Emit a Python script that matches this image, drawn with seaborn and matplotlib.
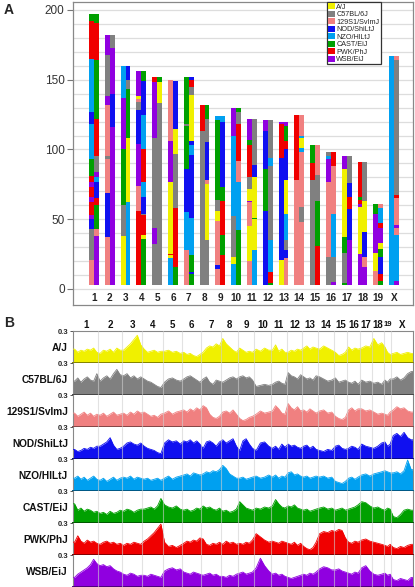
import numpy as np
import pandas as pd
import matplotlib
matplotlib.use("Agg")
import matplotlib.pyplot as plt
import matplotlib.colors as mcolors
from matplotlib.patches import Patch
import seaborn as sns

# ---------------- data ----------------
founders = ["A/J", "C57BL/6J", "129S1/SvImJ", "NOD/ShiLtJ",
            "NZO/HlLtJ", "CAST/EiJ", "PWK/PhJ", "WSB/EiJ"]
founder_codes = "YGSBLCRP"
founder_colors = ["#F0F000", "#808080", "#F08080", "#1010F0",
                  "#00A0F0", "#00A000", "#F00000", "#9000E0"]

chromosomes = ["1", "2", "3", "4", "5", "6", "7", "8", "9", "10",
               "11", "12", "13", "14", "15", "16", "17", "18", "19", "X"]
chrom_length_mb = [197, 182, 160, 156, 152, 150, 152, 132, 124, 130,
                   122, 121, 120, 125, 103, 98, 95, 91, 61, 167]
hap_start_mb = 3

# panel A: founder mosaic of the two homologs (founder codes bottom->top, segment ends in Mb)
chr1_hap = [("SGBPRPRPRCLBLRC", [21, 43, 50, 53, 62, 66, 73, 77, 81, 93, 118, 127, 165, 192, 197]),
            ("PSCRBLPGRCRC", [38, 43, 60, 65, 77, 80, 84, 95, 122, 164, 191, 197])]
chr2_hap = [("SBSGSPGP", [37, 69, 93, 95, 132, 138, 168, 182]),
            ("PBPG", [116, 140, 173, 182])]
chr3_hap = [("YGCPL", [38, 60, 100, 137, 160]),
            ("LYCGB", [62, 108, 143, 150, 160])]
chr4_hap = [("RSPBGSYP", [56, 74, 104, 128, 134, 136, 138, 156]),
            ("CYRGBLRLBC", [36, 39, 53, 54, 66, 77, 100, 125, 149, 156])]
chr5_hap = [("GPGPR", [32, 44, 108, 148, 152]),
            ("GYC", [133, 148, 152])]
chr6_hap = [("LYRYPS", [22, 24, 25, 77, 106, 150]),
            ("CRGYB", [16, 58, 97, 115, 149])]
chr7_hap = [("SLBCGC", [28, 55, 86, 117, 118, 152]),
            ("CBCLBLBYGRB", [11, 12, 24, 51, 96, 103, 106, 139, 145, 150, 152])]
chr8_hap = [("GR", [113, 132]),
            ("GYSBGC", [35, 75, 78, 105, 122, 132])]
chr9_hap = [("SBSYGCL", [14, 17, 49, 56, 64, 121, 124]),
            ("RCRCBL", [24, 39, 63, 73, 120, 124])]
chr10_hap = [("LYGLP", [18, 23, 52, 110, 130]),
             ("CLSRGC", [42, 77, 92, 118, 127, 130])]
chr11_hap = [("SYSPYGRCP", [20, 45, 62, 63, 72, 80, 103, 107, 122]),
             ("LYCYBG", [28, 50, 51, 80, 89, 122])]
chr12_hap = [("BCBP", [56, 86, 113, 121]),
             ("CRLGLG", [4, 12, 35, 88, 94, 121])]
chr13_hap = [("YBRP", [21, 94, 118, 120]),
             ("SBGLYBRCP", [22, 28, 35, 54, 78, 100, 106, 117, 120])]
chr14_hap = [("SR", [78, 125]),
             ("SGSLYLS", [48, 59, 98, 101, 108, 110, 125])]
chr15_hap = [("GRC", [78, 90, 103]),
             ("RCGS", [31, 63, 82, 103])]
chr16_hap = [("GSPLG", [23, 77, 93, 95, 98]),
             ("PGLSR", [5, 23, 54, 88, 98])]
chr17_hap = [("CGCYP", [4, 26, 37, 86, 95]),
             ("PBRBG", [35, 57, 66, 76, 95])]
chr18_hap = [("PYPRCR", [25, 59, 61, 64, 66, 91]),
             ("PSBYG", [16, 23, 41, 63, 91])]
chr19_hap = [("SYPC", [13, 26, 54, 61]),
             ("CRBCYPRLS", [6, 11, 23, 29, 33, 44, 47, 58, 61])]
chrX_hap = [("L", [167]),
            ("PLSPSRGS", [6, 39, 44, 46, 65, 67, 164, 167])]
haplotypes = [chr1_hap, chr2_hap, chr3_hap, chr4_hap, chr5_hap, chr6_hap, chr7_hap,
              chr8_hap, chr9_hap, chr10_hap, chr11_hap, chr12_hap, chr13_hap,
              chr14_hap, chr15_hap, chr16_hap, chr17_hap, chr18_hap, chr19_hap, chrX_hap]

# panel B: founder contribution along the genome (samples per chromosome)
samples_per_chrom = [8, 7, 6, 6, 5, 6, 6, 5, 5, 4, 5, 5, 5, 4, 4, 4, 3, 3, 3, 6]
aj_freq = [0.13, 0.10, 0.12, 0.11, 0.13, 0.12, 0.14, 0.10,
           0.09, 0.12, 0.11, 0.13, 0.10, 0.14, 0.12,
           0.12, 0.15, 0.18, 0.22, 0.26, 0.17,
           0.13, 0.10, 0.11, 0.12, 0.10, 0.11,
           0.11, 0.12, 0.10, 0.11, 0.09,
           0.10, 0.08, 0.09, 0.07, 0.06, 0.08,
           0.10, 0.14, 0.16, 0.15, 0.18, 0.16,
           0.23, 0.18, 0.15, 0.12, 0.10,
           0.14, 0.12, 0.10, 0.11, 0.10,
           0.13, 0.11, 0.14, 0.12,
           0.12, 0.17, 0.11, 0.13, 0.10,
           0.10, 0.12, 0.11, 0.13, 0.12,
           0.14, 0.16, 0.13, 0.15, 0.14,
           0.13, 0.16, 0.14, 0.12,
           0.10, 0.07, 0.08, 0.10,
           0.15, 0.12, 0.14, 0.13,
           0.14, 0.16, 0.15,
           0.23, 0.17, 0.19,
           0.15, 0.10, 0.08,
           0.09, 0.10, 0.08, 0.09, 0.10, 0.09]
b6_freq = [0.13, 0.16, 0.12, 0.15, 0.17, 0.14, 0.13, 0.20,
           0.13, 0.16, 0.18, 0.15, 0.20, 0.24, 0.19,
           0.18, 0.20, 0.16, 0.18, 0.15, 0.17,
           0.15, 0.13, 0.12, 0.10, 0.08, 0.07,
           0.12, 0.15, 0.16, 0.14, 0.13,
           0.15, 0.17, 0.18, 0.16, 0.14, 0.12,
           0.15, 0.17, 0.12, 0.10, 0.14, 0.13,
           0.12, 0.14, 0.16, 0.17, 0.15,
           0.17, 0.18, 0.16, 0.17, 0.14,
           0.08, 0.09, 0.10, 0.09,
           0.10, 0.12, 0.13, 0.11, 0.10,
           0.21, 0.18, 0.17, 0.15, 0.19,
           0.17, 0.15, 0.16, 0.14, 0.18,
           0.17, 0.15, 0.13, 0.14,
           0.16, 0.12, 0.13, 0.14,
           0.12, 0.11, 0.13, 0.10,
           0.14, 0.12, 0.13,
           0.11, 0.12, 0.10,
           0.14, 0.12, 0.15,
           0.15, 0.17, 0.14, 0.16, 0.20, 0.22]
s129_freq = [0.13, 0.10, 0.12, 0.14, 0.11, 0.13, 0.10, 0.12,
             0.11, 0.13, 0.10, 0.12, 0.14, 0.11, 0.12,
             0.13, 0.11, 0.14, 0.12, 0.15, 0.13,
             0.14, 0.12, 0.10, 0.11, 0.09, 0.12,
             0.13, 0.15, 0.12, 0.14, 0.15,
             0.16, 0.14, 0.17, 0.15, 0.18, 0.16,
             0.20, 0.18, 0.12, 0.09, 0.08, 0.10,
             0.14, 0.15, 0.13, 0.16, 0.12,
             0.08, 0.06, 0.07, 0.09, 0.10,
             0.12, 0.15, 0.13, 0.14,
             0.15, 0.20, 0.17, 0.13, 0.12,
             0.22, 0.18, 0.16, 0.19, 0.15,
             0.16, 0.14, 0.17, 0.15, 0.13,
             0.15, 0.16, 0.13, 0.14,
             0.10, 0.08, 0.07, 0.09,
             0.16, 0.18, 0.15, 0.17,
             0.17, 0.15, 0.16,
             0.14, 0.12, 0.13,
             0.12, 0.11, 0.14,
             0.16, 0.19, 0.17, 0.18, 0.15, 0.14]
nod_freq = [0.09, 0.07, 0.08, 0.10, 0.09, 0.11, 0.10, 0.12,
            0.12, 0.14, 0.16, 0.20, 0.13, 0.09, 0.10,
            0.12, 0.15, 0.16, 0.14, 0.13, 0.15,
            0.12, 0.10, 0.09, 0.08, 0.06, 0.05,
            0.15, 0.18, 0.16, 0.17, 0.14,
            0.17, 0.16, 0.18, 0.15, 0.17, 0.14,
            0.10, 0.16, 0.17, 0.15, 0.12, 0.16,
            0.18, 0.15, 0.17, 0.19, 0.12,
            0.08, 0.17, 0.19, 0.14, 0.10,
            0.08, 0.15, 0.16, 0.12,
            0.10, 0.12, 0.09, 0.14, 0.11,
            0.14, 0.12, 0.13, 0.11, 0.10,
            0.12, 0.13, 0.10, 0.12, 0.09,
            0.08, 0.07, 0.09, 0.08,
            0.12, 0.13, 0.10, 0.09,
            0.10, 0.12, 0.11, 0.09,
            0.14, 0.12, 0.11,
            0.10, 0.12, 0.15,
            0.16, 0.12, 0.14,
            0.22, 0.24, 0.21, 0.25, 0.20, 0.18]
nzo_freq = [0.12, 0.14, 0.11, 0.13, 0.10, 0.12, 0.14, 0.11,
            0.10, 0.12, 0.09, 0.11, 0.13, 0.10, 0.12,
            0.13, 0.12, 0.14, 0.11, 0.13, 0.12,
            0.11, 0.12, 0.10, 0.11, 0.12, 0.10,
            0.12, 0.14, 0.11, 0.13, 0.14,
            0.15, 0.16, 0.14, 0.17, 0.16, 0.15,
            0.16, 0.18, 0.17, 0.19, 0.18, 0.20,
            0.24, 0.21, 0.16, 0.14, 0.12,
            0.12, 0.13, 0.11, 0.12, 0.13,
            0.14, 0.12, 0.13, 0.15,
            0.13, 0.15, 0.12, 0.14, 0.13,
            0.17, 0.18, 0.15, 0.16, 0.14,
            0.13, 0.14, 0.12, 0.13, 0.14,
            0.13, 0.14, 0.12, 0.13,
            0.09, 0.08, 0.07, 0.09,
            0.12, 0.13, 0.11, 0.13,
            0.15, 0.16, 0.14,
            0.16, 0.17, 0.18,
            0.19, 0.18, 0.17,
            0.17, 0.18, 0.16, 0.19, 0.29, 0.20]
cast_freq = [0.18, 0.12, 0.14, 0.11, 0.13, 0.12, 0.10, 0.11,
             0.09, 0.10, 0.08, 0.11, 0.09, 0.10, 0.12,
             0.11, 0.13, 0.12, 0.10, 0.12, 0.13,
             0.13, 0.14, 0.15, 0.13, 0.16, 0.23,
             0.17, 0.15, 0.14, 0.16, 0.13,
             0.12, 0.13, 0.11, 0.12, 0.14, 0.13,
             0.16, 0.14, 0.15, 0.13, 0.12, 0.14,
             0.11, 0.12, 0.10, 0.11, 0.13,
             0.20, 0.17, 0.14, 0.13, 0.12,
             0.14, 0.13, 0.15, 0.14,
             0.16, 0.22, 0.18, 0.15, 0.14,
             0.16, 0.15, 0.17, 0.14, 0.13,
             0.12, 0.13, 0.11, 0.12, 0.13,
             0.14, 0.15, 0.13, 0.14,
             0.12, 0.13, 0.14, 0.12,
             0.13, 0.14, 0.15, 0.17,
             0.20, 0.19, 0.16,
             0.14, 0.15, 0.13,
             0.12, 0.14, 0.13,
             0.06, 0.05, 0.08, 0.12, 0.13, 0.12]
pwk_freq = [0.12, 0.18, 0.13, 0.11, 0.14, 0.12, 0.13, 0.11,
            0.10, 0.12, 0.13, 0.11, 0.12, 0.10, 0.11,
            0.09, 0.11, 0.10, 0.12, 0.11, 0.10,
            0.13, 0.15, 0.18, 0.21, 0.25, 0.29,
            0.12, 0.08, 0.09, 0.07, 0.09,
            0.11, 0.13, 0.12, 0.14, 0.13, 0.16,
            0.15, 0.10, 0.09, 0.11, 0.10, 0.12,
            0.10, 0.13, 0.11, 0.12, 0.10,
            0.11, 0.10, 0.12, 0.11, 0.14,
            0.20, 0.17, 0.14, 0.12,
            0.13, 0.12, 0.11, 0.13, 0.12,
            0.11, 0.10, 0.12, 0.09, 0.11,
            0.08, 0.06, 0.05, 0.07, 0.12,
            0.20, 0.22, 0.21, 0.23,
            0.22, 0.24, 0.23, 0.16,
            0.12, 0.11, 0.13, 0.12,
            0.14, 0.15, 0.13,
            0.12, 0.11, 0.10,
            0.09, 0.08, 0.10,
            0.07, 0.06, 0.08, 0.07, 0.09, 0.10]
wsb_freq = [0.09, 0.12, 0.14, 0.16, 0.18, 0.21, 0.26, 0.22,
            0.20, 0.21, 0.19, 0.20, 0.17, 0.15, 0.14,
            0.12, 0.11, 0.13, 0.12, 0.10, 0.11,
            0.11, 0.10, 0.12, 0.11, 0.10, 0.09,
            0.15, 0.17, 0.18, 0.16, 0.17,
            0.14, 0.13, 0.12, 0.14, 0.13, 0.12,
            0.11, 0.12, 0.13, 0.11, 0.12, 0.10,
            0.10, 0.09, 0.11, 0.10, 0.12,
            0.13, 0.14, 0.12, 0.13, 0.14,
            0.18, 0.27, 0.20, 0.15,
            0.12, 0.13, 0.11, 0.12, 0.10,
            0.09, 0.08, 0.09, 0.10, 0.11,
            0.12, 0.11, 0.13, 0.12, 0.14,
            0.17, 0.19, 0.18, 0.16,
            0.16, 0.17, 0.15, 0.14,
            0.13, 0.12, 0.14, 0.13,
            0.18, 0.20, 0.15,
            0.12, 0.11, 0.12,
            0.13, 0.11, 0.12,
            0.07, 0.06, 0.08, 0.07, 0.06, 0.09]
founder_freqs = [aj_freq, b6_freq, s129_freq, nod_freq, nzo_freq, cast_freq, pwk_freq, wsb_freq]

# ---------------- style ----------------
sns.set_style("white")
plt.rcParams["font.family"] = ["Liberation Sans", "DejaVu Sans"]

W, H = 415, 587
fig = plt.figure(figsize=(W / 100, H / 100), dpi=100)


def fig_rect(x0, y0, x1, y1):
    return [x0 / W, 1 - y1 / H, (x1 - x0) / W, (y1 - y0) / H]


# ---------------- panel A ----------------
axA = fig.add_axes(fig_rect(73, 2, 413, 305))
rows = []
for ci, hap in enumerate(haplotypes):
    for side, (codes, ends) in enumerate(hap):
        start = hap_start_mb
        for code, end in zip(codes, ends):
            rows.append({"chrom": ci, "side": side, "bottom": start,
                         "height": end - start,
                         "color": founder_colors[founder_codes.index(code)]})
            start = end
seg = pd.DataFrame(rows)
col_w = 0.31
seg["x"] = seg["chrom"] + np.where(seg["side"] == 0, -col_w / 2, col_w / 2)
axA.bar(seg["x"], seg["height"], bottom=seg["bottom"], width=col_w,
        color=seg["color"], linewidth=0, zorder=3)

for gy in range(0, 201, 10):
    axA.axhline(gy, color="#dddddd", lw=0.9, zorder=1)
axA.set_xlim(-1.33, 20.2)
axA.set_ylim(-11.5, 205.7)
axA.set_yticks([0, 50, 100, 150, 200])
axA.set_yticklabels(["0", "50", "100", "150", "200"])
axA.tick_params(axis="y", left=True, length=4, width=0.8, color="#777777",
                labelsize=8.5, labelcolor="#333333", pad=2)
axA.set_xticks([])
for i, name in enumerate(chromosomes):
    axA.text(i, -6.3, name, ha="center", va="center", fontsize=7.2,
             fontweight="bold", color="#222222", zorder=4)
for sp in axA.spines.values():
    sp.set_color("#888888")
    sp.set_linewidth(0.9)

handles = [Patch(facecolor=c, edgecolor="none", label=f) for c, f in zip(founder_colors, founders)]
leg = axA.legend(handles=handles, loc="upper left", bbox_to_anchor=(0.748, 1.0),
                 fontsize=5.2, frameon=True, fancybox=False, framealpha=1,
                 edgecolor="#333333", borderpad=0.15, labelspacing=0.0,
                 handlelength=0.9, handleheight=0.9, handletextpad=0.2,
                 borderaxespad=0)
leg.get_frame().set_linewidth(0.9)
leg.set_zorder(6)
fig.text(9 / W, 1 - 10 / H, "A", fontsize=10, fontweight="bold", ha="center", va="center")

# ---------------- panel B ----------------
fig.text(9 / W, 1 - 323 / H, "B", fontsize=10, fontweight="bold", ha="center", va="center")
cum = np.concatenate([[0], np.cumsum(chrom_length_mb)])
genome = cum[-1]
positions = []
for ci, n in enumerate(samples_per_chrom):
    for j in range(n):
        positions.append(cum[ci] + (j + 0.5) * chrom_length_mb[ci] / n)
positions = np.array(positions)
xs = np.concatenate([[0], positions, [genome]])

strip_h = 32.0
for k, (name, color, freq) in enumerate(zip(founders, founder_colors, founder_freqs)):
    top = 331 + k * strip_h
    ax = fig.add_axes(fig_rect(73, top, 413, top + strip_h))
    ys = np.concatenate([[freq[0]], freq, [freq[-1]]])
    df = pd.DataFrame({"pos": xs, "freq": ys})
    ax.fill_between(df["pos"], 0, df["freq"], color=color, linewidth=0, zorder=2)
    sns.lineplot(data=df, x="pos", y="freq", ax=ax, color=color, lw=0.6, zorder=3)
    for b in cum[1:-1]:
        ax.axvline(b, color="#cfcfcf", lw=0.8, alpha=0.6, zorder=4)
    ax.set_xlim(0, genome)
    ax.set_ylim(0, 0.3)
    ax.set_xticks([])
    ax.set_yticks([0.3])
    ax.set_yticklabels(["0.3"])
    ax.tick_params(axis="y", left=True, length=2, width=0.7, color="#555555",
                   labelsize=5.5, pad=1)
    for lab in ax.get_yticklabels():
        lab.set_fontweight("bold")
    ax.set_xlabel("")
    ax.set_ylabel("")
    dark = tuple(np.array(mcolors.to_rgb(color)) * 0.55)
    ax.spines["bottom"].set_color(dark)
    ax.spines["bottom"].set_linewidth(1.4)
    ax.spines["left"].set_color("#888888")
    ax.spines["right"].set_color("#888888")
    ax.spines["top"].set_visible(k == 0)
    ax.spines["top"].set_color("#888888")
    ax.text(-0.015, 0.46, name, transform=ax.transAxes, ha="right", va="center",
            fontsize=7.3, fontweight="bold", color="#111111")
    if k == 0:
        for ci, cname in enumerate(chromosomes):
            ax.text((cum[ci] + cum[ci + 1]) / 2, 1.19, cname,
                    transform=ax.get_xaxis_transform(), ha="center", va="center",
                    fontsize=5.6 if cname == "19" else 7.0,
                    fontweight="bold", color="#111111")

fig.savefig("out.png", dpi=100)
